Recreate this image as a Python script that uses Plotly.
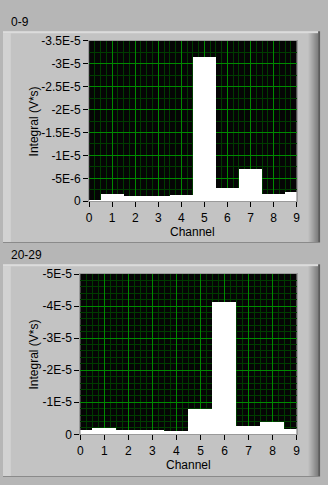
import plotly.graph_objects as go

W, H = 328, 485

channels = [0, 1, 2, 3, 4, 5, 6, 7, 8, 9]
top_values = [-3e-7, -1.5e-6, -1.05e-6, -1.05e-6, -1.4e-6, -3.16e-5, -2.8e-6, -7.05e-6, -1.55e-6, -2.1e-6]
bottom_values = [-1.2e-6, -1.8e-6, -1.3e-6, -1.3e-6, -1.0e-6, -7.9e-6, -4.12e-5, -2.7e-6, -3.9e-6, -1.5e-6]

top_ticks = [0, -5e-6, -1e-5, -1.5e-5, -2e-5, -2.5e-5, -3e-5, -3.5e-5]
top_ticktext = ["0", "-5E-6", "-1E-5", "-1.5E-5", "-2E-5", "-2.5E-5", "-3E-5", "-3.5E-5"]
bottom_ticks = [0, -1e-5, -2e-5, -3e-5, -4e-5, -5e-5]
bottom_ticktext = ["0", "-1E-5", "-2E-5", "-3E-5", "-4E-5", "-5E-5"]

titles = ["0-9", "20-29"]
x_title = "Channel"
y_title = "Integral (V*s)"

FONT = "Liberation Sans"
MAJOR = "#008a00"
MINOR = "#003c00"


def px(x):
    return x / W


def py(y):
    return 1 - y / H


fig = go.Figure()
fig.add_trace(go.Bar(x=channels, y=top_values, width=1, marker=dict(color="white", line=dict(width=0)),
                     xaxis="x", yaxis="y", showlegend=False))
fig.add_trace(go.Bar(x=channels, y=bottom_values, width=1, marker=dict(color="white", line=dict(width=0)),
                     xaxis="x2", yaxis="y2", showlegend=False))

common_x = dict(range=[0, 9], tickmode="linear", tick0=0, dtick=1, showgrid=True, gridcolor=MAJOR, gridwidth=1,
                minor=dict(dtick=0.25, tick0=0, showgrid=True, gridcolor=MINOR, gridwidth=1, ticks=""),
                ticks="outside", ticklen=5, tickcolor="black", tickwidth=1,
                showline=True, linecolor="#9a9a9a", linewidth=1, mirror=True, zeroline=False,
                tickfont=dict(family=FONT, size=12, color="black"), fixedrange=True)
common_y = dict(tickmode="array", showgrid=True, gridcolor=MAJOR, gridwidth=1,
                ticks="outside", ticklen=5, tickcolor="black", tickwidth=1,
                showline=True, linecolor="#9a9a9a", linewidth=1, mirror=True, zeroline=False,
                tickfont=dict(family=FONT, size=12, color="black"), fixedrange=True)

plot_boxes = [(88, 300, 35, 200), (79, 300, 275, 440)]

fig.update_layout(
    width=W, height=H, margin=dict(l=0, r=0, t=0, b=0),
    paper_bgcolor="#b6b6b6", plot_bgcolor="#050505",
    bargap=0, barmode="overlay",
    xaxis=dict(domain=[px(88), px(300)], anchor="y", **common_x),
    yaxis=dict(domain=[py(200), py(35)], anchor="x", range=[0, -3.5e-5], tickvals=top_ticks, ticktext=top_ticktext,
               minor=dict(dtick=2.5e-6, tick0=0, showgrid=True, gridcolor=MINOR, gridwidth=1, ticks=""), **common_y),
    xaxis2=dict(domain=[px(79), px(300)], anchor="y2", **common_x),
    yaxis2=dict(domain=[py(440), py(275)], anchor="x2", range=[0, -5e-5], tickvals=bottom_ticks, ticktext=bottom_ticktext,
                minor=dict(dtick=2e-6, tick0=0, showgrid=True, gridcolor=MINOR, gridwidth=1, ticks=""), **common_y),
)

shapes = []
for (y0, y1) in [(25, 242), (265, 483)]:
    # panel body
    shapes.append(dict(type="rect", xref="paper", yref="paper", x0=px(0), x1=px(322), y0=py(y1), y1=py(y0),
                       fillcolor="#c3c3c3", line=dict(width=0), layer="below"))
    # left highlight
    shapes.append(dict(type="rect", xref="paper", yref="paper", x0=px(0), x1=px(8), y0=py(y1), y1=py(y0 + 2),
                       fillcolor="#d2d2d2", line=dict(width=0), layer="below"))
    # top highlight
    shapes.append(dict(type="rect", xref="paper", yref="paper", x0=px(0), x1=px(322), y0=py(y0 + 2), y1=py(y0),
                       fillcolor="#dcdcdc", line=dict(width=0), layer="below"))
    # right shading gradient
    grads = ["#bdbdbd", "#b5b5b5", "#adadad", "#a5a5a5", "#9c9c9c", "#949494", "#8c8c8c", "#858585", "#7e7e7e", "#777777"]
    for i, c in enumerate(grads):
        shapes.append(dict(type="rect", xref="paper", yref="paper", x0=px(312 + i), x1=px(313 + i),
                           y0=py(y1), y1=py(y0 + 2), fillcolor=c, line=dict(width=0), layer="below"))
    shapes.append(dict(type="rect", xref="paper", yref="paper", x0=px(322), x1=px(324), y0=py(y1), y1=py(y0),
                       fillcolor="#5c5c5c", line=dict(width=0), layer="below"))
    # bottom shade
    shapes.append(dict(type="rect", xref="paper", yref="paper", x0=px(0), x1=px(324), y0=py(y1 + 1), y1=py(y1),
                       fillcolor="#8a8a8a", line=dict(width=0), layer="below"))
# black plot area backgrounds (drawn above panel shapes)
for (x0, x1, y0, y1) in plot_boxes:
    shapes.append(dict(type="rect", xref="paper", yref="paper", x0=px(x0), x1=px(x1), y0=py(y1), y1=py(y0),
                       fillcolor="#050505", line=dict(width=0), layer="below"))
fig.update_layout(shapes=shapes)

annotations = []
for t, yc in zip(titles, [15, 255]):
    annotations.append(dict(text=t, xref="paper", yref="paper", x=px(6), y=py(yc), xanchor="left", yanchor="middle",
                            showarrow=False, font=dict(family=FONT, size=12, color="black")))
for yc in [117.5, 357.5]:
    annotations.append(dict(text=y_title, xref="paper", yref="paper", x=px(32), y=py(yc), xanchor="center",
                            yanchor="middle", textangle=-90, showarrow=False,
                            font=dict(family=FONT, size=12, color="black")))
for xc, yc in [(194, 232), (189.5, 472)]:
    annotations.append(dict(text=x_title, xref="paper", yref="paper", x=px(xc), y=py(yc), xanchor="center",
                            yanchor="middle", showarrow=False, font=dict(family=FONT, size=12, color="black")))
fig.update_layout(annotations=annotations)

fig.write_html("out.html", config={"displayModeBar": False})
